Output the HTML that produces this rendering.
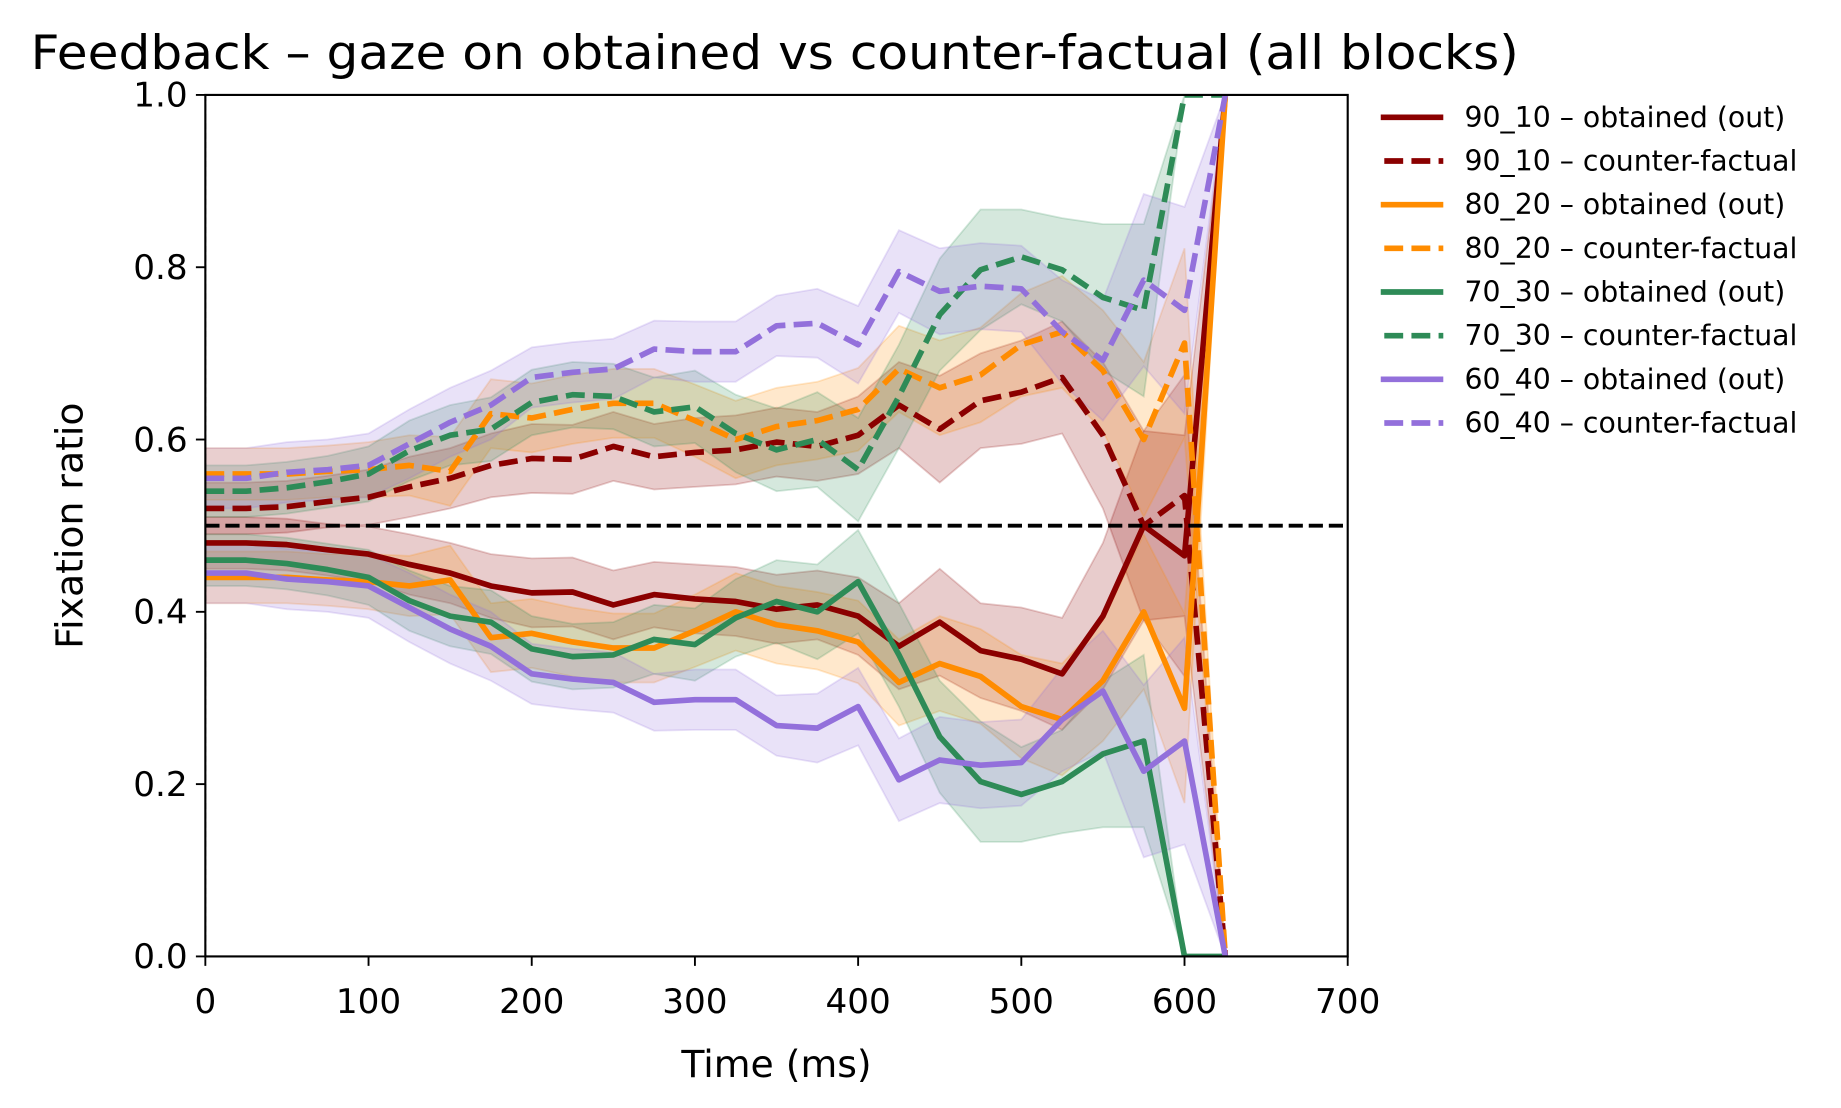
<!DOCTYPE html>
<html><head><meta charset="utf-8"><style>
html,body{margin:0;padding:0;background:#fff}
svg{display:block}
text{font-family:"DejaVu Sans","Liberation Sans",sans-serif}
</style></head><body>
<svg id="chart" width="1841" height="1108" viewBox="0 0 1560 938" xmlns="http://www.w3.org/2000/svg">
<defs><clipPath id="clip"><rect x="174" y="80" width="968" height="730"/></clipPath></defs>
<text x="26" y="58" font-size="40" textLength="1261" lengthAdjust="spacingAndGlyphs">Feedback – gaze on obtained vs counter-factual (all blocks)</text>
<g id="plot" clip-path="url(#clip)"></g>
<rect x="174" y="80" width="968" height="730" fill="none" stroke="#000" stroke-width="1.8"/>
<g id="axes"></g>
<text x="658" y="912" font-size="32" text-anchor="middle">Time (ms)</text>
<text x="70" y="445" font-size="32" text-anchor="middle" transform="rotate(-90 70 445)">Fixation ratio</text>
<g id="legend"></g>
</svg>
<script>
const times=[0,25,50,75,100,125,150,175,200,225,250,275,300,325,350,375,400,425,450,475,500,525,550,575,600,625];
const groups=["90_10","80_20","70_30","60_40"];
const colors=["#8b0000","#ff8c00","#2e8b57","#9370db"];
const obt9010=[0.48,0.48,0.478,0.472,0.467,0.455,0.445,0.43,0.422,0.423,0.408,0.42,0.415,0.412,0.403,0.408,0.395,0.36,0.388,0.355,0.345,0.328,0.395,0.5,0.465,1.0];
const cf9010=[0.52,0.52,0.522,0.528,0.533,0.545,0.555,0.57,0.578,0.577,0.592,0.58,0.585,0.588,0.597,0.592,0.605,0.64,0.612,0.645,0.655,0.672,0.605,0.5,0.535,0.0];
const se9010=[0.03,0.03,0.03,0.03,0.032,0.035,0.035,0.037,0.04,0.04,0.04,0.038,0.04,0.04,0.04,0.04,0.045,0.05,0.062,0.055,0.06,0.065,0.085,0.11,0.14,0];
const obt8020=[0.44,0.44,0.44,0.437,0.435,0.43,0.437,0.37,0.375,0.365,0.358,0.358,0.378,0.4,0.385,0.378,0.365,0.318,0.34,0.325,0.29,0.275,0.32,0.4,0.288,1.0];
const cf8020=[0.56,0.56,0.56,0.563,0.565,0.57,0.563,0.63,0.625,0.635,0.642,0.642,0.622,0.6,0.615,0.622,0.635,0.682,0.66,0.675,0.71,0.725,0.68,0.6,0.712,0.0];
const se8020=[0.03,0.03,0.03,0.03,0.032,0.035,0.04,0.04,0.04,0.04,0.04,0.04,0.042,0.045,0.045,0.045,0.048,0.05,0.055,0.055,0.06,0.065,0.07,0.09,0.11,0];
const obt7030=[0.46,0.46,0.456,0.449,0.44,0.413,0.395,0.388,0.357,0.348,0.35,0.368,0.362,0.393,0.412,0.4,0.435,0.35,0.255,0.203,0.188,0.203,0.235,0.25,0.0,0.0];
const cf7030=[0.54,0.54,0.544,0.551,0.56,0.587,0.605,0.612,0.643,0.652,0.65,0.632,0.638,0.607,0.588,0.6,0.565,0.65,0.745,0.797,0.812,0.797,0.765,0.75,1.0,1.0];
const se7030=[0.03,0.03,0.03,0.03,0.032,0.035,0.035,0.037,0.038,0.038,0.038,0.04,0.042,0.045,0.048,0.055,0.06,0.06,0.065,0.07,0.055,0.06,0.085,0.1,0,0];
const obt6040=[0.445,0.445,0.438,0.435,0.43,0.405,0.38,0.36,0.328,0.322,0.318,0.295,0.298,0.298,0.268,0.265,0.29,0.205,0.228,0.222,0.225,0.275,0.308,0.215,0.25,0.0];
const cf6040=[0.555,0.555,0.562,0.565,0.57,0.595,0.62,0.64,0.672,0.678,0.682,0.705,0.702,0.702,0.732,0.735,0.71,0.795,0.772,0.778,0.775,0.725,0.692,0.785,0.75,1.0];
const se6040=[0.035,0.035,0.035,0.035,0.037,0.04,0.04,0.04,0.035,0.035,0.035,0.033,0.035,0.035,0.035,0.04,0.045,0.048,0.05,0.05,0.05,0.06,0.07,0.1,0.12,0];
const xTicks=[0,100,200,300,400,500,600,700];
const yTicks=[0.0,0.2,0.4,0.6,0.8,1.0];
const obtAll=[obt9010,obt8020,obt7030,obt6040];
const cfAll=[cf9010,cf8020,cf7030,cf6040];
const seAll=[se9010,se8020,se7030,se6040];

const NS="http://www.w3.org/2000/svg";
const X=t=>174+t/700*968;
const Y=v=>810-v*730;
function mk(tag,attrs,parent){const e=document.createElementNS(NS,tag);for(const k in attrs)e.setAttribute(k,attrs[k]);parent.appendChild(e);return e;}
const plot=document.getElementById('plot');
const axes=document.getElementById('axes');
const legend=document.getElementById('legend');

function band(vals,se,col){
  let up=times.map((t,i)=>X(t)+','+Y(vals[i]+se[i]));
  let lo=times.map((t,i)=>X(t)+','+Y(vals[i]-se[i])).reverse();
  const p=mk('polygon',{points:up.concat(lo).join(' '),fill:col,'fill-opacity':0.2,stroke:col,'stroke-opacity':0.2,'stroke-width':1.5},plot);
  
  
}
function line(vals,col,dashed,name){
  const pts=times.map((t,i)=>X(t)+','+Y(vals[i])).join(' ');
  const a={points:pts,fill:'none',stroke:col,'stroke-width':4.8,'stroke-linejoin':'round'};
  if(dashed)a['stroke-dasharray']='16 7';
  const p=mk('polyline',a,plot);
  
  
}
groups.forEach((g,k)=>{band(obtAll[k],seAll[k],colors[k]);band(cfAll[k],seAll[k],colors[k]);});
groups.forEach((g,k)=>{
  line(obtAll[k],colors[k],false,'line-'+g+'-obtained');
  line(cfAll[k],colors[k],true,'line-'+g+'-counterfactual');
});
const ref=mk('line',{x1:174,x2:1142,y1:Y(0.5),y2:Y(0.5),stroke:'#000','stroke-width':3.2,'stroke-dasharray':'12 5'},plot);


const vref=mk('line',{x1:X(0),x2:X(0),y1:80,y2:810,stroke:'#000','stroke-width':1.4,'stroke-dasharray':'5 3'},plot);



xTicks.forEach(t=>{
  const l=mk('line',{x1:X(t),x2:X(t),y1:810,y2:818,stroke:'#000','stroke-width':1.6},axes);
  
  
  const tx=mk('text',{x:X(t),y:858,'font-size':29,'text-anchor':'middle'},axes);
  tx.textContent=t;
  
  
});
yTicks.forEach(v=>{
  const l=mk('line',{x1:166,x2:174,y1:Y(v),y2:Y(v),stroke:'#000','stroke-width':1.6},axes);
  
  
  const tx=mk('text',{x:159,y:Y(v)+10,'font-size':29,'text-anchor':'end'},axes);
  tx.textContent=v.toFixed(1);
  
  
});
groups.forEach((g,k)=>{
  [[' – obtained (out)',false],[' – counter-factual',true]].forEach(([suf,d],j)=>{
    const yy=99+(k*2+j)*37;
    const a={x1:1170,x2:1223,y1:yy,y2:yy,stroke:colors[k],'stroke-width':4.8};
    if(d){a['stroke-dasharray']='16 7';a.x1=1173;}
    const l=mk('line',a,legend);
    
    
    const tx=mk('text',{x:1241,y:yy+8,'font-size':24},legend);
    tx.textContent=g+suf;
    
    
  });
});
</script>
</body></html>
